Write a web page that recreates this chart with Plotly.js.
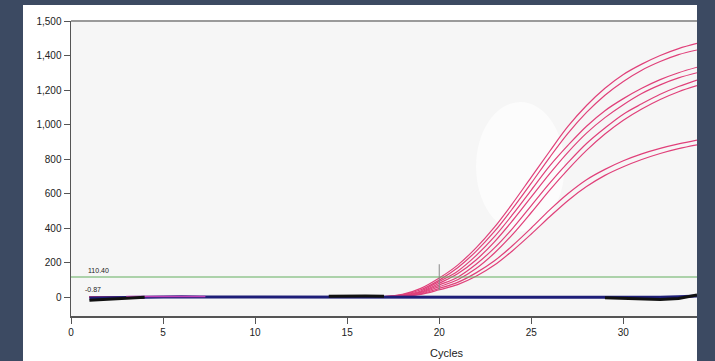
<!DOCTYPE html>
<html><head><meta charset="utf-8">
<script src="https://cdn.plot.ly/plotly-3.0.1.min.js"></script>
<style>
html,body{margin:0;padding:0;background:#3c4a62;width:715px;height:361px;overflow:hidden}
#chart{position:absolute;left:23px;top:5px;width:674px;height:356px;background:#fff}
</style></head><body><div id="chart"></div>
<script>
// Data
const cycles = [1,2,3,4,5,6,7,8,9,10,11,12,13,14,15,16,17,18,19,20,21,22,23,24,25,26,27,28,29,30,31,32,33,34];
const A1 = [0,1,0,-1,0,1,0,0,1,0,0,1,1,0,1,2, 3,15,50,110,185,285,405,545,695,845,990,1110,1210,1290,1350,1400,1440,1470];
const A2 = [0,0,1,0,-1,0,1,0,0,1,0,0,1,1,1,1, 2,12,42,98,170,265,380,515,660,810,950,1070,1170,1250,1315,1365,1405,1432];
const B1 = [0,1,0,0,1,0,0,1,0,0,1,0,1,1,1,2, 2,10,35,90,150,240,350,480,620,760,880,990,1080,1150,1210,1260,1300,1332];
const B2 = [0,0,0,1,0,0,1,0,0,1,0,1,0,1,1,1, 1,8,30,80,135,215,320,445,580,715,840,950,1040,1115,1180,1230,1270,1300];
const C1 = [0,1,1,0,0,1,0,0,0,1,1,0,1,0,1,1, 1,7,26,70,115,190,285,400,530,660,780,890,980,1060,1120,1175,1220,1258];
const C2 = [0,0,1,0,0,0,1,1,0,0,1,0,0,1,1,1, 1,6,22,60,100,165,255,365,490,620,740,850,945,1025,1090,1145,1190,1225];
const D1 = [0,1,0,0,1,0,0,0,1,0,0,1,0,1,0,1, 1,5,18,50,85,140,210,300,400,505,600,680,740,790,830,862,888,910];
const D2 = [0,0,0,1,0,1,0,0,0,1,0,0,1,0,1,1, 1,4,15,42,72,120,185,270,365,465,560,640,705,755,797,832,860,882];
const navyBase = [-6,-4,-2,-1,0,1,0,0,1,0,0,0,1,1,2,2,3,3,2,2,1,1,1,0,0,0,-1,-1,-2,-3,-3,-2,2,6];
const blackBase = [-18,-12,-6,-2,null,null,null,null,null,null,null,null,null,4,6,6,5,null,null,null,null,null,null,null,null,null,null,null,-4,-8,-14,-15,-8,12];
const magentaCycles = [3,4,5,6,7,7.3];
const magentaBase = [3,3,4,3,3,3];
const threshold = 116;
const thresholdLabel = "110.40";
const baselineLabel = "-0.87";
const cursorCycle = 20;
const xTicks = [0,5,10,15,20,25,30];
const yTickVals = [0,200,400,600,800,1000,1200,1400,1600];
const yTickText = ["0","200","400","600","800","1,000","1,200","1,400","1,500"];

const pink = '#e0407a';
const ampSeries = [A1,A2,B1,B2,C1,C2,D1,D2];
const traces = [];
ampSeries.forEach(s=>traces.push({x:cycles,y:s,mode:'lines',line:{color:pink,width:1.2,shape:'spline'},hoverinfo:'skip'}));
traces.push({x:cycles,y:navyBase,mode:'lines',line:{color:'#1e1e78',width:3},hoverinfo:'skip'});
traces.push({x:magentaCycles,y:magentaBase,mode:'lines',line:{color:'#c040b8',width:1.5},hoverinfo:'skip'});
traces.push({x:cycles,y:blackBase,mode:'lines',line:{color:'#111',width:3},hoverinfo:'skip'});

const font = {family:'Liberation Sans, Arial, sans-serif',size:10,color:'#222'};
const layout = {
  width:674,height:356,
  margin:{l:48,r:0,t:16,b:45},
  paper_bgcolor:'#ffffff',plot_bgcolor:'#f6f6f6',
  showlegend:false,
  font:font,
  xaxis:{range:[0,34],tickvals:xTicks,ticks:'outside',ticklen:6,tickcolor:'#555',
    showline:true,linecolor:'#555',linewidth:1.5,showgrid:false,zeroline:false,tickfont:font,fixedrange:true},
  yaxis:{range:[-110,1600],tickvals:yTickVals,ticktext:yTickText,ticks:'outside',ticklen:6,tickcolor:'#555',
    showline:true,linecolor:'#555',linewidth:1.5,showgrid:false,zeroline:false,tickfont:font,fixedrange:true},
  shapes:[
    {type:'circle',layer:'below',xref:'x',yref:'y',x0:22.0,x1:26.8,y0:380,y1:1130,fillcolor:'#fcfcfc',line:{width:0}},
    {type:'line',xref:'paper',yref:'y',x0:0,x1:1,y0:threshold,y1:threshold,line:{color:'#63ad5f',width:1.2}},
    {type:'line',xref:'x',yref:'y',x0:cursorCycle,x1:cursorCycle,y0:40,y1:190,line:{color:'#888',width:1}},
    {type:'line',xref:'paper',yref:'paper',x0:0,x1:1,y0:1,y1:1,line:{color:'#9a9a9a',width:2}}
  ],
  annotations:[
    {xref:'x',yref:'y',x:0.8,y:threshold+8,text:thresholdLabel,showarrow:false,xanchor:'left',yanchor:'bottom',font:{family:font.family,size:7,color:'#222'}},
    {xref:'x',yref:'y',x:0.65,y:12,text:baselineLabel,showarrow:false,xanchor:'left',yanchor:'bottom',font:{family:font.family,size:7,color:'#222'}},
    {xref:'x',yref:'paper',x:20.4,y:-0.125,text:'Cycles',showarrow:false,xanchor:'center',yanchor:'middle',font:{family:font.family,size:11,color:'#222'}}
  ]
};
Plotly.newPlot('chart',traces,layout,{displayModeBar:false,staticPlot:true});
</script></body></html>
